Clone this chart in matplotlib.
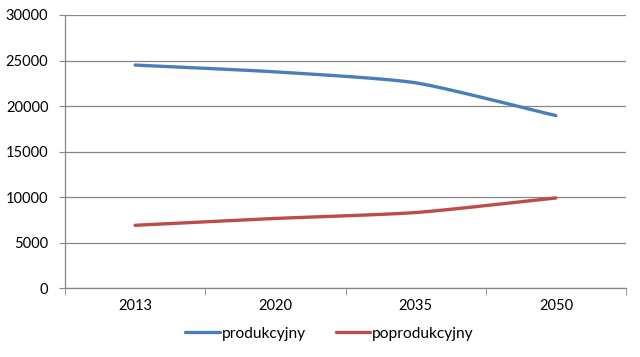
import numpy as np
import matplotlib.pyplot as plt

years = ["2013", "2020", "2035", "2050"]
produkcyjny = [24500, 23750, 22550, 18950]
poprodukcyjny = [6900, 7650, 8300, 9900]
yticks = [0, 5000, 10000, 15000, 20000, 25000, 30000]


def smooth(xs, ys, k=0.6, n=30):
    # Hermite curve through the points with reduced tangents (Excel-like smoothing)
    xs = np.asarray(xs, float)
    ys = np.asarray(ys, float)
    px = np.concatenate([[2 * xs[0] - xs[1]], xs, [2 * xs[-1] - xs[-2]]])
    py = np.concatenate([[2 * ys[0] - ys[1]], ys, [2 * ys[-1] - ys[-2]]])
    t = np.linspace(0, 1, n)
    h00 = 2 * t ** 3 - 3 * t ** 2 + 1
    h10 = t ** 3 - 2 * t ** 2 + t
    h01 = -2 * t ** 3 + 3 * t ** 2
    h11 = t ** 3 - t ** 2
    outx, outy = [], []
    for i in range(1, len(px) - 2):
        for p, out in ((px, outx), (py, outy)):
            m1 = k * (p[i + 1] - p[i - 1]) / 2
            m2 = k * (p[i + 2] - p[i]) / 2
            out.extend(h00 * p[i] + h10 * m1 + h01 * p[i + 1] + h11 * m2)
    return outx, outy


plt.rcParams["font.family"] = ["Lato", "DejaVu Sans"]
fig = plt.figure(figsize=(6.4, 3.57), dpi=100)
ax = fig.add_axes([0.1016, 0.193, 0.8766, 0.765])

x = np.arange(len(years))
for vals, color, label in ((produkcyjny, "#4A7EBB", "produkcyjny"),
                           (poprodukcyjny, "#BE4B48", "poprodukcyjny")):
    sx, sy = smooth(x, vals)
    ax.plot(sx, sy, color=color, lw=2.4, label=label, solid_capstyle="round")

ax.set_xlim(-0.5, len(years) - 0.5)
ax.set_ylim(0, 30000)
ax.set_yticks(yticks)
ax.set_yticklabels([str(v) for v in yticks])
ax.set_xticks(x)
ax.set_xticklabels(years)
ax.set_xticks(np.arange(-0.5, len(years)), minor=True)
ax.tick_params(axis="x", which="major", length=0, pad=8)
ax.tick_params(axis="x", which="minor", length=5, color="#878787")
ax.tick_params(axis="y", length=4, color="#878787", pad=8)
ax.tick_params(labelsize=10.5, labelcolor="black")
ax.grid(axis="y", color="#878787", lw=0.9)
ax.set_axisbelow(True)
for s in ("top", "right"):
    ax.spines[s].set_visible(False)
for s in ("left", "bottom"):
    ax.spines[s].set_color("#878787")
    ax.spines[s].set_linewidth(0.9)

fig.legend(loc="center", bbox_to_anchor=(0.515, 0.065), ncol=2, frameon=False,
           fontsize=11.2, handlelength=2.2, handletextpad=0.15, columnspacing=1.9)

fig.savefig("out.png", dpi=100)
